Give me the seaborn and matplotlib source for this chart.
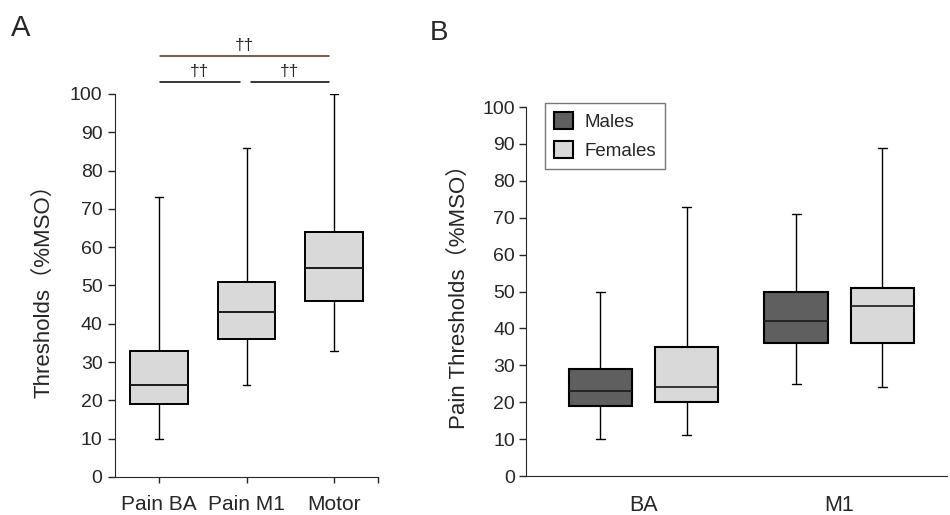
# Pain / motor thresholds, box plots (whiskers = min..max)

import pandas as pd
import matplotlib.pyplot as plt
import seaborn as sns

# five-number summaries: min, Q1, median, Q3, max
groups_a = ["Pain BA", "Pain M1", "Motor"]
pain_ba = [10, 19, 24, 33, 73]
pain_m1 = [24, 36, 43, 51, 86]
motor = [33, 46, 54.5, 64, 100]

sites_b = ["BA", "M1"]
sexes = ["Males", "Females"]
males_ba = [10, 19, 23, 29, 50]
females_ba = [11, 20, 24, 35, 73]
males_m1 = [25, 36, 42, 50, 71]
females_m1 = [24, 36, 46, 51, 89]

# significance brackets in panel A: (left group, right group, label)
brackets = [(0, 2, "\u2020\u2020"), (0, 1, "\u2020\u2020"), (1, 2, "\u2020\u2020")]

yticks = list(range(0, 101, 10))

sns.set_style("ticks")
plt.rcParams["font.family"] = ["Liberation Sans", "Noto Sans CJK SC", "DejaVu Sans"]

df_a = pd.DataFrame({
    "group": [g for g, v in zip(groups_a, [pain_ba, pain_m1, motor]) for _ in v],
    "value": pain_ba + pain_m1 + motor,
})

rows = []
for site, m, f in [("BA", males_ba, females_ba), ("M1", males_m1, females_m1)]:
    rows += [(site, "Males", v) for v in m]
    rows += [(site, "Females", v) for v in f]
df_b = pd.DataFrame(rows, columns=["site", "sex", "value"])

fig = plt.figure(figsize=(9.5, 5.15), dpi=100)
ax_a = fig.add_axes([0.1211, 0.0738, 0.2768, 0.7437])
ax_b = fig.add_axes([0.5537, 0.0757, 0.4432, 0.7165])

# ---- panel A
sns.boxplot(data=df_a, x="group", y="value", order=groups_a, color="#d9d9d9",
            saturation=1, width=0.66, whis=(0, 100), linecolor="black",
            linewidth=1.2, ax=ax_a,
            boxprops=dict(linewidth=1.4),
            medianprops=dict(color="#1a1a1a", linewidth=1.4),
            whiskerprops=dict(linewidth=1.0),
            capprops=dict(linewidth=1.0), capwidths=0.09)

ax_a.set_xlim(-0.5, 2.5)
ax_a.set_ylim(0, 100)
ax_a.set_yticks(yticks)
ax_a.set_xticks([2.5], minor=True)
ax_a.set_xlabel("")
ax_a.set_ylabel("Thresholds\uff08%MSO\uff09", fontsize=16, labelpad=11)
ax_a.tick_params(axis="y", labelsize=14, length=5, width=1, pad=4)
ax_a.tick_params(axis="x", which="both", labelsize=15, length=4, width=1, pad=9)
sns.despine(ax=ax_a)

for i, (l, r, lab) in enumerate(brackets):
    if r - l == 2:
        y, col = 110, "#5a2a20"
        x0, x1 = l + 0.01, r - 0.06
    else:
        y, col = 103, "black"
        x0 = l + (0.01 if l == 0 else 0.05)
        x1 = r - (0.08 if r == 1 else 0.06)
    ax_a.plot([x0, x1], [y, y], color=col, lw=1.1, clip_on=False)
    ax_a.text((x0 + x1) / 2, y + 0.8, lab, ha="center", va="bottom",
              fontsize=12.5, clip_on=False)

fig.text(0.011, 0.945, "A", fontsize=21, ha="left", va="center")

# ---- panel B
sns.boxplot(data=df_b, x="site", y="value", hue="sex", order=sites_b,
            hue_order=sexes, palette={"Males": "#5f5f5f", "Females": "#d9d9d9"},
            saturation=1, width=0.88, gap=0.26, whis=(0, 100),
            linecolor="black", linewidth=1.2, ax=ax_b,
            boxprops=dict(linewidth=1.5),
            medianprops=dict(color="#1a1a1a", linewidth=1.2),
            whiskerprops=dict(linewidth=1.0),
            capprops=dict(linewidth=1.0), capwidths=0.045)

ax_b.set_xlim(-0.6, 1.55)
ax_b.set_ylim(0, 100)
ax_b.set_yticks(yticks)
ax_b.set_xlabel("")
ax_b.set_ylabel("Pain Thresholds\uff08%MSO\uff09", fontsize=16, labelpad=9)
ax_b.tick_params(axis="y", labelsize=14, length=5, width=1, pad=3)
ax_b.tick_params(axis="x", labelsize=15.5, length=0, pad=14)
sns.despine(ax=ax_b)

leg = ax_b.legend(loc="upper left", bbox_to_anchor=(0.045, 1.012),
                  borderaxespad=0, fontsize=13.5, handlelength=1.0,
                  handleheight=1.0, labelspacing=0.55, handletextpad=0.6,
                  fancybox=False, framealpha=1, edgecolor="#777777",
                  borderpad=0.5)
leg.get_frame().set_linewidth(1.0)

fig.text(0.452, 0.935, "B", fontsize=20, ha="left", va="center")

fig.savefig("out.png", dpi=100)
